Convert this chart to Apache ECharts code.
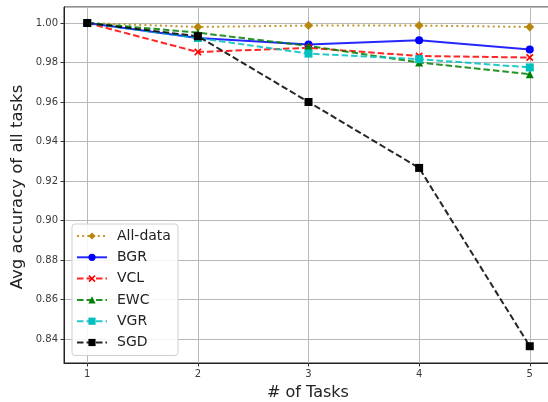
<!DOCTYPE html>
<html>
<head>
<meta charset="utf-8">
<script src="https://cdn.jsdelivr.net/npm/echarts@6/dist/echarts.min.js"></script>
<style>
html,body{margin:0;padding:0;background:#fff;}
#chart{width:548px;height:402px;}
</style>
</head>
<body>
<div id="chart"></div>
<script>
const tasks = [1, 2, 3, 4, 5];
const allData = [1.0, 0.998, 0.9987, 0.9987, 0.998];
const bgr = [1.0, 0.9924, 0.9891, 0.9913, 0.9866];
const vcl = [1.0, 0.9853, 0.9874, 0.9833, 0.9825];
const ewc = [1.0, 0.9951, 0.9884, 0.9800, 0.9741];
const vgr = [1.0, 0.9924, 0.9845, 0.9817, 0.9775];
const sgd = [1.0, 0.9933, 0.9600, 0.9266, 0.8363];
const seriesNames = ['All-data', 'BGR', 'VCL', 'EWC', 'VGR', 'SGD'];
const xTitle = '# of Tasks';
const yTitle = 'Avg accuracy of all tasks';

const FONT = 'DejaVu Sans';
const xPath = 'path://M0,1.6 L1.6,0 L5,3.4 L8.4,0 L10,1.6 L6.6,5 L10,8.4 L8.4,10 L5,6.6 L1.6,10 L0,8.4 L3.4,5 Z';

function pts(arr) { return tasks.map((t, i) => [t, arr[i]]); }

const dashed = [6.5, 3];
const dotted = [2, 3.2];

function mk(name, arr, color, symbol, size, type) {
  return {
    name: name,
    type: 'line',
    data: pts(arr),
    symbol: symbol,
    symbolSize: size,
    showAllSymbol: true,
    lineStyle: { color: color, width: 2, type: type, opacity: 0.85 },
    itemStyle: { color: color, borderWidth: 0, opacity: 1 },
    emphasis: { disabled: true },
    animation: false
  };
}

const chart = echarts.init(document.getElementById('chart'), null, { renderer: 'canvas' });
chart.setOption({
  animation: false,
  backgroundColor: '#fff',
  grid: {
    left: 64, top: 7, right: -5, bottom: 39,
    show: true, borderColor: '#222', borderWidth: 1,
    containLabel: false, outerBoundsMode: 'none'
  },
  xAxis: {
    type: 'value',
    min: 0.79, max: 5.21,
    splitNumber: 5,
    axisLine: { show: true, onZero: false, lineStyle: { color: '#222', width: 1 } },
    axisTick: { show: true, length: 3.5, lineStyle: { color: '#333' } },
    axisLabel: {
      showMinLabel: false, showMaxLabel: false,
      color: '#3a3a3a', fontFamily: FONT, fontSize: 10, margin: 6
    },
    splitLine: { show: true, lineStyle: { color: '#b8b8b8', width: 1 } }
  },
  yAxis: {
    type: 'value',
    min: 0.8278, max: 1.0081,
    splitNumber: 9,
    axisLine: { show: true, onZero: false, lineStyle: { color: '#222', width: 1 } },
    axisTick: { show: true, length: 3.5, lineStyle: { color: '#333' } },
    axisLabel: {
      showMinLabel: false, showMaxLabel: false,
      color: '#3a3a3a', fontFamily: FONT, fontSize: 10, margin: 6,
      formatter: v => v.toFixed(2)
    },
    splitLine: { show: true, lineStyle: { color: '#b8b8b8', width: 1 } }
  },
  legend: {
    orient: 'vertical',
    left: 72, top: 224,
    padding: [5, 7, 6, 4],
    itemGap: 7.3,
    itemWidth: 30, itemHeight: 9,
    textStyle: { fontFamily: FONT, fontSize: 14, color: '#222', padding: [0, 0, 0, 5], height: 14, lineHeight: 14 },
    backgroundColor: 'rgba(255,255,255,0.85)',
    borderColor: '#d0d0d0', borderWidth: 1, borderRadius: 3,
    data: seriesNames,
    selectedMode: false
  },
  graphic: [
    { type: 'text', x: 18, y: 187, rotation: Math.PI / 2,
      style: { text: yTitle, font: '16.5px "DejaVu Sans"', fill: '#222', textAlign: 'center', textVerticalAlign: 'middle' } },
    { type: 'text', x: 308, y: 393,
      style: { text: xTitle, font: '16px "DejaVu Sans"', fill: '#222', textAlign: 'center', textVerticalAlign: 'middle' } }
  ],
  series: [
    mk(seriesNames[0], allData, '#b8860b', 'diamond', 9, dotted),
    mk(seriesNames[1], bgr, '#0000ff', 'circle', 8, 'solid'),
    mk(seriesNames[2], vcl, '#ff0000', xPath, 7.5, dashed),
    mk(seriesNames[3], ewc, '#008000', 'triangle', 8, dashed),
    mk(seriesNames[4], vgr, '#00bfbf', 'rect', 8, dashed),
    mk(seriesNames[5], sgd, '#000000', 'rect', 8, dashed)
  ]
});
</script>
</body>
</html>
